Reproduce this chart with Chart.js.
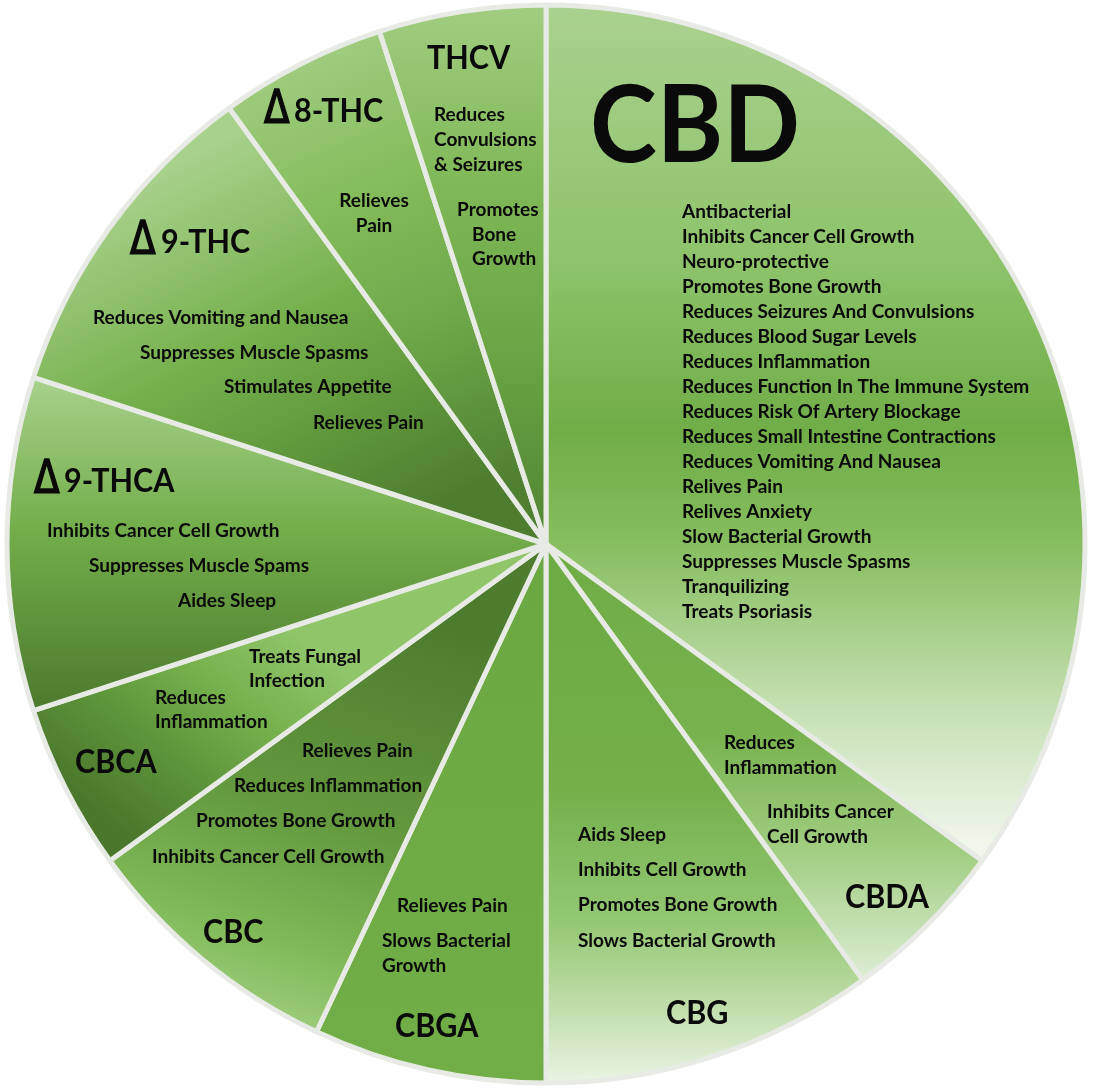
<!DOCTYPE html>
<html>
<head>
<meta charset="utf-8">
<script src="https://cdn.jsdelivr.net/npm/chart.js@4.4.1/dist/chart.umd.min.js"></script>
<style>
  html, body { margin: 0; padding: 0; background: #ffffff; }
  #wrap { width: 1094px; height: 1091px; position: relative; }
</style>
</head>
<body>
<div id="wrap"><canvas id="c"></canvas></div>
<script>
// ---------------- DATA ----------------
const compounds = ['CBD', 'CBDA', 'CBG', 'CBGA', 'CBC', 'CBCA', 'Δ9-THCA', 'Δ9-THC', 'Δ8-THC', 'THCV'];
const shares = [35, 5, 10, 7, 8, 5, 10, 10, 5, 5];

const cbdEffects = ['Antibacterial', 'Inhibits Cancer Cell Growth', 'Neuro-protective', 'Promotes Bone Growth',
  'Reduces Seizures And Convulsions', 'Reduces Blood Sugar Levels', 'Reduces Inflammation',
  'Reduces Function In The Immune System', 'Reduces Risk Of Artery Blockage',
  'Reduces Small Intestine Contractions', 'Reduces Vomiting And Nausea', 'Relives Pain', 'Relives Anxiety',
  'Slow Bacterial Growth', 'Suppresses Muscle Spasms', 'Tranquilizing', 'Treats Psoriasis'];
const cbdaEffects = ['Reduces', 'Inflammation', 'Inhibits Cancer', 'Cell Growth'];
const cbgEffects = ['Aids Sleep', 'Inhibits Cell Growth', 'Promotes Bone Growth', 'Slows Bacterial Growth'];
const cbgaEffects = ['Relieves Pain', 'Slows Bacterial', 'Growth'];
const cbcEffects = ['Relieves Pain', 'Reduces Inflammation', 'Promotes Bone Growth', 'Inhibits Cancer Cell Growth'];
const cbcaEffects = ['Treats Fungal', 'Infection', 'Reduces', 'Inflammation'];
const thcaEffects = ['Inhibits Cancer Cell Growth', 'Suppresses Muscle Spams', 'Aides Sleep'];
const thcEffects = ['Reduces Vomiting and Nausea', 'Suppresses Muscle Spasms', 'Stimulates Appetite', 'Relieves Pain'];
const thc8Effects = ['Relieves', 'Pain'];
const thcvEffects = ['Reduces', 'Convulsions', '& Seizures', 'Promotes', 'Bone', 'Growth'];
const effectLists = [cbdEffects, cbdaEffects, cbgEffects, cbgaEffects, cbcEffects, cbcaEffects,
  thcaEffects, thcEffects, thc8Effects, thcvEffects];

// ---------------- STYLE / LAYOUT ----------------
// gradient vectors relative to pie centre in units of radius, with colour stops
const sliceGradients = [
  [0, -1, 0, 0.58, [[0, '#aad18f'], [0.3, '#8ec36b'], [0.5, '#70ad47'], [0.63, '#86bd5e'], [0.72, '#a3cd85'], [0.82, '#c4dfb1'], [0.93, '#e2efd9'], [1, '#f3f8f0']]],
  [0, 0.05, 0, 0.8, [[0, '#70ad47'], [0.4, '#78b24e'], [0.7, '#a2ce83'], [1, '#dcecd2']]],
  [0, 0.1, 0, 1.0, [[0, '#6dab44'], [0.39, '#74af4a'], [0.67, '#94c874'], [0.85, '#c3dead'], [1, '#eaf4e5']]],
  [0, 0.0, 0, 1.0, [[0, '#6ba842'], [1, '#72ae48']]],
  [-0.2, 0.15, -0.45, 0.92, [[0, '#4e7c2f'], [0.5, '#64993f'], [0.8, '#80b957'], [1, '#a0ce81']]],
  [-0.45, 0.18, -0.75, 0.56, [[0, '#90c56a'], [0.35, '#76b04c'], [0.65, '#5e953b'], [1, '#4a772c']]],
  [0, -0.3, 0, 0.3, [[0, '#a6d08a'], [0.45, '#74ae4b'], [1, '#4d7b2e']]],
  [-0.5, -0.8, -0.15, -0.1, [[0, '#a8d18c'], [0.45, '#76b04c'], [0.75, '#5f963b'], [1, '#4e7d30']]],
  [-0.42, -0.92, -0.08, -0.1, [[0, '#a0cc80'], [0.3, '#86bd5d'], [0.62, '#6ea848'], [1, '#4f7f31']]],
  [0, -1, 0, -0.05, [[0, '#a1cd81'], [0.35, '#80b857'], [0.7, '#69a343'], [1, '#558836']]]
];

// text positions in reference pixel space (pie centre at 546,544, radius 539)
const REF_CX = 546, REF_CY = 544, REF_R = 539;
const headLayout = [
  {x: 590, y: 127, size: 'xl'},
  {x: 845, y: 898, size: 'h'},
  {x: 666, y: 1014, size: 'h'},
  {x: 395, y: 1027, size: 'h'},
  {x: 203, y: 933, size: 'h'},
  {x: 75, y: 763, size: 'h'},
  {x: 64, dx: 33, y: 482, size: 'h'},
  {x: 161, dx: 129, y: 243, size: 'h'},
  {x: 294, dx: 263, y: 112, size: 'h'},
  {x: 427, y: 59, size: 'h'}
];
const cbdLinePos = cbdEffects.map((_, i) => [682, 212 + 25 * i]);
const lineLayout = [
  cbdLinePos,
  [[724, 743], [724, 768], [767, 812], [767, 837]],
  [[578, 835], [578, 870], [578, 905], [578, 941]],
  [[397, 906], [382, 941], [382, 966]],
  [[302, 751], [234, 786], [196, 821], [152, 857]],
  [[249, 657], [249, 681], [155, 698], [155, 722]],
  [[47, 531], [89, 566], [178, 601]],
  [[93, 318], [140, 353], [224, 387], [313, 423]],
  [[374, 201, 'center'], [374, 226, 'center']],
  [[434, 115], [434, 140], [434, 165], [457, 210], [472, 235], [472, 259]]
];

const FONT = 'Lato, "Open Sans", "DejaVu Sans", sans-serif';
const WEIGHT = 'bold';
const TEXT_COLOR = '#0a0a0a';
const LATO_CAP = 0.7165;

// font size from wanted cap height, horizontal squeeze from wanted sample width
function textStyle(ctx, capH, sample, targetW) {
  const size = capH / LATO_CAP;
  ctx.font = WEIGHT + ' ' + size + 'px ' + FONT;
  const w = ctx.measureText(sample).width;
  return {size, sx: Math.min(1.05, targetW / w)};
}

function drawText(ctx, t, x, y, style, align) {
  ctx.save();
  ctx.font = WEIGHT + ' ' + style.size + 'px ' + FONT;
  ctx.textAlign = align || 'left';
  ctx.translate(x, y);
  ctx.scale(style.sx, 1);
  ctx.fillText(t, 0, 0);
  ctx.restore();
}

const gradCache = {};
function sliceFill(context) {
  const chart = context.chart;
  const area = chart.chartArea;
  const i = context.dataIndex;
  const g = sliceGradients[i];
  if (!area) return g[4][0][1];
  const cx = (area.left + area.right) / 2;
  const cy = (area.top + area.bottom) / 2;
  const R = REF_R;
  const key = i + ':' + cx + ':' + cy;
  if (gradCache[key]) return gradCache[key];
  const grad = chart.ctx.createLinearGradient(cx + g[0] * R, cy + g[1] * R, cx + g[2] * R, cy + g[3] * R);
  g[4].forEach(s => grad.addColorStop(s[0], s[1]));
  gradCache[key] = grad;
  return grad;
}

const textPlugin = {
  id: 'sliceText',
  afterDatasetsDraw(chart) {
    const ctx = chart.ctx;
    const arc = chart.getDatasetMeta(0).data[0];
    const cx = arc.x, cy = arc.y, s = arc.outerRadius / REF_R;
    const X = x => cx + (x - REF_CX) * s;
    const Y = y => cy + (y - REF_CY) * s;
    const itemStyle = textStyle(ctx, 13 * s, 'Inhibits Cancer Cell Growth', 234 * s);
    const headStyle = textStyle(ctx, 23.3 * s, 'CBDA', 84 * s);
    const xlStyle = textStyle(ctx, 77 * s, 'CBD', 210 * s);
    ctx.save();
    ctx.fillStyle = TEXT_COLOR;
    ctx.strokeStyle = TEXT_COLOR;
    ctx.textBaseline = 'middle';
    compounds.forEach((name, i) => {
      const h = headLayout[i];
      const st = h.size === 'xl' ? xlStyle : headStyle;
      let label = name;
      if (name.startsWith('Δ')) {
        label = name.slice(1);
        ctx.save();
        ctx.font = 'normal ' + (st.size * 1.4) + 'px "DejaVu Sans", sans-serif';
        ctx.textBaseline = 'alphabetic';
        ctx.textAlign = 'left';
        ctx.lineWidth = 1.6;
        ctx.lineJoin = 'miter';
        ctx.translate(X(h.dx) + 1, Y(h.y) + st.size * LATO_CAP / 2 - 0.5);
        ctx.scale(0.82, 1);
        ctx.fillText('Δ', 0, 0);
        ctx.strokeText('Δ', 0, 0);
        ctx.restore();
      }
      drawText(ctx, label, X(h.x), Y(h.y), st, 'left');
      effectLists[i].forEach((t, j) => {
        const p = lineLayout[i][j];
        drawText(ctx, t, X(p[0]), Y(p[1]), itemStyle, p[2]);
      });
    });
    ctx.restore();
  }
};

new Chart(document.getElementById('c'), {
  type: 'pie',
  data: {
    labels: compounds,
    datasets: [{
      data: shares,
      backgroundColor: sliceFill,
      borderColor: '#e8ebe5',
      borderWidth: 5,
      radius: REF_R
    }]
  },
  options: {
    responsive: true,
    maintainAspectRatio: false,
    animation: false,
    layout: { padding: { left: 0, right: 2, top: 0, bottom: 3 } },
    plugins: {
      legend: { display: false },
      tooltip: { enabled: false }
    }
  },
  plugins: [textPlugin]
});
</script>
</body>
</html>
